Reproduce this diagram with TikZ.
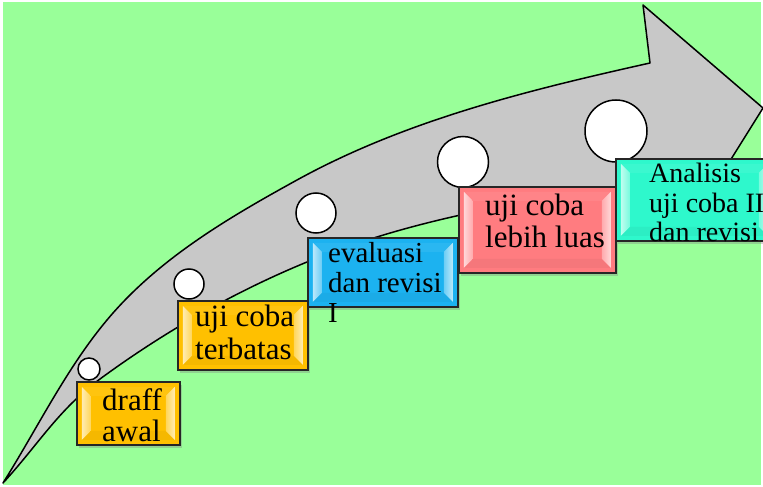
\documentclass[tikz,border=0pt]{standalone}
\usepackage{fontspec}
\setmainfont{Liberation Serif}
\usetikzlibrary{shadows,calc}
\definecolor{bggreen}{HTML}{99FF99}
\definecolor{arrowgrey}{HTML}{C8C8C8}
\definecolor{orangeb}{HTML}{FFC000}
\definecolor{blueb}{HTML}{1CB2F0}
\definecolor{pinkb}{HTML}{FF7C80}
\definecolor{tealb}{HTML}{2EF8CC}
\begin{document}
\begin{tikzpicture}[x=1pt,y=-1pt,
  outline/.style={draw=black, line width=1.5pt, line join=round},
  dot/.style={circle, draw=black, fill=white, line width=1.5pt, inner sep=0pt},
  gel/.style={rectangle, draw=black!85, line width=1.5pt, fill=#1, inner sep=0pt, anchor=north west,
    drop shadow={shadow xshift=2pt, shadow yshift=-3pt, opacity=0.35},
    path picture={
      \fill[#1!94!white]
        ($(path picture bounding box.north west)+(5pt,-5pt)$) --
        ($(path picture bounding box.north east)+(-5pt,-5pt)$) --
        ($(path picture bounding box.north east)+(-14pt,-14pt)$) --
        ($(path picture bounding box.north west)+(14pt,-14pt)$) -- cycle;
      \fill[#1!96!black]
        ($(path picture bounding box.south west)+(5pt,5pt)$) --
        ($(path picture bounding box.south east)+(-5pt,5pt)$) --
        ($(path picture bounding box.south east)+(-14pt,14pt)$) --
        ($(path picture bounding box.south west)+(14pt,14pt)$) -- cycle;
      \fill[left color=#1!30!white, right color=#1!65!white]
        ($(path picture bounding box.north west)+(5pt,-5pt)$) --
        ($(path picture bounding box.north west)+(14pt,-14pt)$) --
        ($(path picture bounding box.south west)+(14pt,14pt)$) --
        ($(path picture bounding box.south west)+(5pt,5pt)$) -- cycle;
      \fill[left color=#1!65!white, right color=#1!30!white]
        ($(path picture bounding box.north east)+(-5pt,-5pt)$) --
        ($(path picture bounding box.north east)+(-14pt,-14pt)$) --
        ($(path picture bounding box.south east)+(-14pt,14pt)$) --
        ($(path picture bounding box.south east)+(-5pt,5pt)$) -- cycle;
    }},
  lbl/.style={inner sep=0pt, anchor=base west, font=\fontsize{31}{34}\selectfont}]
\useasboundingbox (0,0) rectangle (763,487);
\fill[white] (0,0) rectangle (763,487);
\fill[bggreen] (3,2) rectangle (761,485);
% curved arrow
\filldraw[fill=arrowgrey, outline]
  (3,483) .. controls (37,429) and (66,369) .. (107,320)
          .. controls (158,259) and (228,218) .. (297,180)
          .. controls (406,120) and (529,90) .. (650,63)
  -- (643,5) -- (763,108) -- (723,172) -- (700,178)
          .. controls (567,194) and (431,211) .. (307,262)
          .. controls (234,292) and (164,332) .. (100,379)
          .. controls (58,410) and (38,445) .. (3,483)
  -- cycle;
% circles
\node[dot, minimum size=22pt] (c1) at (89,369) {};
\node[dot, minimum size=30pt] (c2) at (189,284) {};
\node[dot, minimum size=40pt] (c3) at (316,213) {};
\node[dot, minimum size=51pt] (c4) at (463,162) {};
\node[dot, minimum size=62pt] (c5) at (616,131) {};
% boxes
\node[gel=orangeb, minimum width=103pt, minimum height=63pt] (b1) at (76,381) {};
\node[gel=orangeb, minimum width=130pt, minimum height=69pt] (b2) at (177,300) {};
\node[gel=blueb, minimum width=150pt, minimum height=69pt] (b3) at (307,237) {};
\node[gel=pinkb, minimum width=157pt, minimum height=86pt] (b4) at (458,186) {};
\node[gel=tealb, minimum width=157pt, minimum height=82pt] (b5) at (615,158) {};
% texts
\node[lbl] (t1a) at (102,410) {draff};
\node[lbl] (t1b) at (102,441) {awal};
\node[lbl] (t2a) at (195,326) {uji coba};
\node[lbl] (t2b) at (195,359) {terbatas};
\node[lbl, font=\fontsize{29}{32}\selectfont] (t3a) at (328,262) {evaluasi};
\node[lbl, font=\fontsize{29}{32}\selectfont] (t3b) at (328,292) {dan revisi};
\node[lbl, font=\fontsize{29}{32}\selectfont] (t3c) at (328,322) {I};
\node[lbl] (t4a) at (485,215) {uji coba};
\node[lbl] (t4b) at (485,247) {lebih luas};
\node[lbl, font=\fontsize{28}{31}\selectfont] (t5a) at (649,182) {Analisis};
\node[lbl, font=\fontsize{28}{31}\selectfont] (t5b) at (649,212) {uji coba II};
\node[lbl, font=\fontsize{28}{31}\selectfont] (t5c) at (649,241) {dan revisi};
\end{tikzpicture}
\end{document}
